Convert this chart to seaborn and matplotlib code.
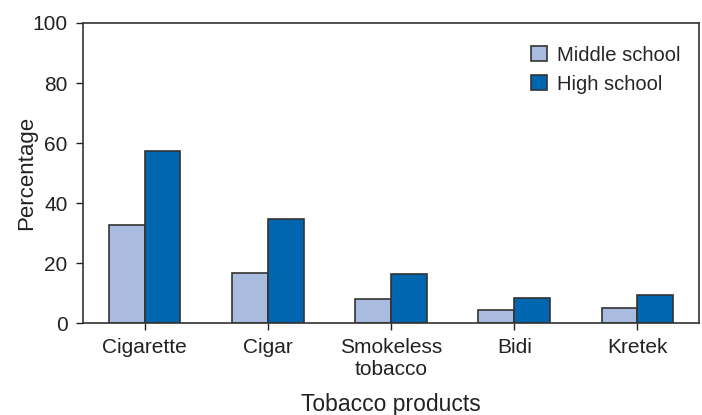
import matplotlib
matplotlib.use("Agg")
import matplotlib.pyplot as plt
import seaborn as sns
import pandas as pd

categories = ["Cigarette", "Cigar", "Smokeless\ntobacco", "Bidi", "Kretek"]
middle_school = [32.8, 16.7, 8.0, 4.4, 4.9]
high_school = [57.2, 34.7, 16.2, 8.5, 9.4]
series = ["Middle school", "High school"]
colors = ["#a9bbdf", "#0066b0"]

df = pd.DataFrame({
    "Product": categories * 2,
    "Value": middle_school + high_school,
    "School": [series[0]] * len(categories) + [series[1]] * len(categories),
})

sns.set_style("white")
plt.rcParams["font.family"] = ["Liberation Sans", "DejaVu Sans"]

fig = plt.figure(figsize=(7.02, 4.15), dpi=100)
ax = fig.add_axes([83 / 702, 1 - 323 / 415, (699 - 83) / 702, (323 - 23) / 415])

sns.barplot(data=df, x="Product", y="Value", hue="School", palette=colors,
            width=0.58, edgecolor="#333333", linewidth=1.2, ax=ax,
            hue_order=series, order=categories, saturation=1)

ax.set_xlim(-0.5, 4.5)
ax.set_ylim(0, 100)
ax.set_yticks([0, 20, 40, 60, 80, 100])
ax.tick_params(axis="both", labelsize=15, colors="#222222", length=5, width=1,
               direction="out", bottom=True, left=True)
ax.tick_params(axis="x", pad=6)
ax.tick_params(axis="y", pad=6)
for s in ax.spines.values():
    s.set_color("#333333")
    s.set_linewidth(1.2)
ax.set_xlabel("Tobacco products", fontsize=16.5, labelpad=10, color="#222222")
ax.set_ylabel("Percentage", fontsize=16, labelpad=-3, color="#222222")

leg = ax.legend(loc="upper right", frameon=False, fontsize=14.5,
                handlelength=0.8, handleheight=0.8, handletextpad=0.5,
                bbox_to_anchor=(1.0, 0.985), labelspacing=0.5)

fig.savefig("out.png", dpi=100)
